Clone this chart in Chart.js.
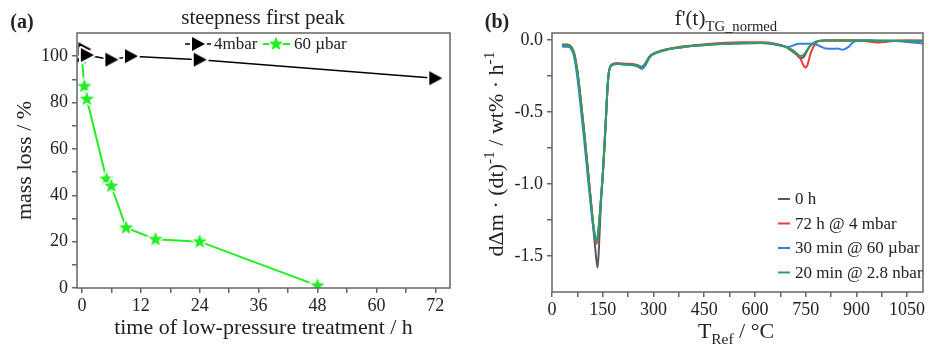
<!DOCTYPE html>
<html>
<head>
<meta charset="utf-8">
<script src="https://cdn.jsdelivr.net/npm/chart.js@4.4.0/dist/chart.umd.min.js"></script>
<style>
  html, body { margin: 0; padding: 0; background: #fff; }
  #wrap { position: relative; width: 930px; height: 351px; }
  .panel { position: absolute; top: 0; width: 465px; height: 351px; }
</style>
</head>
<body>
<div id="wrap">
  <div class="panel" style="left:0"><canvas id="chartA" width="465" height="351"></canvas></div>
  <div class="panel" style="left:465px"><canvas id="chartB" width="465" height="351"></canvas></div>
</div>
<script>
// (a) steepness of first peak vs. time of low-pressure treatment
var hours4mbar = [0, 0.5, 1, 6, 10, 24, 72];
var loss4mbar = [100, 103, 100.5, 98.5, 100, 98.5, 90.5];
var hours60ubar = [0, 0.5, 1, 5, 6, 9, 15, 24, 48];
var loss60ubar = [99, 87, 81.5, 47, 44, 26, 21, 20, 1];
var hourTicks = [0, 6, 12, 18, 24, 30, 36, 42, 48, 54, 60, 66, 72];
var lossTicks = [0, 10, 20, 30, 40, 50, 60, 70, 80, 90, 100];

// (b) f'(t) TG normed
var tempRef = [30, 45, 55, 65, 75, 85, 95, 105, 115, 122,
  128, 131, 135, 140, 145, 150, 155, 160, 165, 170,
  180, 190, 200, 220, 240, 255, 265, 275, 290, 310,
  340, 380, 430, 500, 560, 620, 660, 690, 700, 715,
  725, 735, 745, 750, 755, 765, 780, 795, 810, 830,
  845, 860, 875, 890, 900, 930, 960, 990, 1020, 1050,
  1100];
var rate0h = [-0.03, -0.03, -0.04, -0.085, -0.21, -0.41, -0.63, -0.87, -1.12, -1.30,
  -1.45, -1.52, -1.58, -1.38, -1.12, -0.95, -0.75, -0.52, -0.30, -0.20,
  -0.17, -0.165, -0.165, -0.168, -0.17, -0.178, -0.188, -0.165, -0.11, -0.085,
  -0.065, -0.05, -0.037, -0.026, -0.021, -0.02, -0.028, -0.045, -0.06, -0.085,
  -0.105, -0.125, -0.115, -0.095, -0.07, -0.035, -0.01, -0.003, -0.002, -0.002,
  -0.002, -0.002, -0.002, -0.002, -0.002, -0.002, -0.003, -0.003, -0.003, -0.004,
  -0.005];
var rate72h4mbar = [-0.035, -0.035, -0.045, -0.09, -0.22, -0.42, -0.64, -0.88, -1.12, -1.28,
  -1.38, -1.415, -1.38, -1.26, -1.10, -0.94, -0.74, -0.52, -0.30, -0.20,
  -0.165, -0.16, -0.16, -0.163, -0.165, -0.175, -0.185, -0.165, -0.11, -0.083,
  -0.062, -0.045, -0.033, -0.02, -0.015, -0.015, -0.025, -0.045, -0.055, -0.075,
  -0.10, -0.13, -0.18, -0.19, -0.175, -0.09, -0.02, -0.004, -0.002, -0.002,
  -0.002, -0.002, -0.002, -0.002, -0.002, -0.008, -0.016, -0.01, -0.003, -0.002,
  -0.003];
var rate30min60ubar = [-0.046, -0.046, -0.055, -0.11, -0.26, -0.47, -0.69, -0.93, -1.16, -1.30,
  -1.38, -1.395, -1.36, -1.25, -1.09, -0.93, -0.73, -0.51, -0.30, -0.20,
  -0.17, -0.16, -0.165, -0.17, -0.175, -0.185, -0.20, -0.18, -0.115, -0.088,
  -0.066, -0.05, -0.037, -0.027, -0.022, -0.02, -0.03, -0.045, -0.047, -0.035,
  -0.027, -0.025, -0.024, -0.024, -0.024, -0.025, -0.028, -0.045, -0.058, -0.06,
  -0.058, -0.066, -0.05, -0.015, -0.003, -0.002, -0.003, -0.004, -0.006, -0.012,
  -0.023];
var rate20min28nbar = [-0.035, -0.035, -0.045, -0.09, -0.22, -0.42, -0.64, -0.88, -1.12, -1.28,
  -1.37, -1.40, -1.37, -1.26, -1.10, -0.94, -0.74, -0.52, -0.30, -0.20,
  -0.17, -0.165, -0.165, -0.168, -0.17, -0.178, -0.188, -0.165, -0.11, -0.085,
  -0.065, -0.05, -0.037, -0.026, -0.021, -0.02, -0.028, -0.045, -0.055, -0.078,
  -0.095, -0.11, -0.10, -0.085, -0.065, -0.035, -0.012, -0.004, -0.002, -0.002,
  -0.002, -0.002, -0.002, -0.002, -0.002, -0.002, -0.003, -0.003, -0.003, -0.004,
  -0.006];
var tempTicks = [0, 75, 150, 225, 300, 375, 450, 525, 600, 675, 750, 825, 900, 975, 1050];
var rateTicks = [0, -0.25, -0.5, -0.75, -1, -1.25, -1.5];

var FONT = "'Liberation Serif', 'DejaVu Serif', serif";
var TXT = '#222';
var AXIS = '#666';

function pairs(xs, ys) {
  return xs.map(function (x, i) { return { x: x, y: ys[i] }; });
}

// marker images with a white halo, so the lines stop short of the symbols
function triangleMarker() {
  var c = document.createElement('canvas');
  c.width = 22; c.height = 22;
  var g = c.getContext('2d');
  g.beginPath();
  g.moveTo(5, 4); g.lineTo(18, 11); g.lineTo(5, 18); g.closePath();
  g.lineJoin = 'round';
  g.strokeStyle = '#fff'; g.lineWidth = 4; g.stroke();
  g.fillStyle = '#000'; g.fill();
  return c;
}
function starMarker() {
  var c = document.createElement('canvas');
  c.width = 22; c.height = 22;
  var g = c.getContext('2d');
  g.beginPath();
  for (var i = 0; i < 10; i++) {
    var r = i % 2 === 0 ? 7.5 : 3.2;
    var a = -Math.PI / 2 + i * Math.PI / 5;
    var px = 11 + r * Math.cos(a), py = 11 + r * Math.sin(a);
    if (i === 0) g.moveTo(px, py); else g.lineTo(px, py);
  }
  g.closePath();
  g.lineJoin = 'round';
  g.strokeStyle = '#fff'; g.lineWidth = 3; g.stroke();
  g.fillStyle = '#22ee22'; g.fill();
  return c;
}
var triImg = triangleMarker();
var starImg = starMarker();

// text with sub/superscripts, parts = [[text, 'n'|'sub'|'sup'], ...]
function richText(ctx, parts, x, y, size, rot, bold) {
  ctx.save();
  ctx.translate(x, y);
  if (rot) ctx.rotate(rot);
  ctx.fillStyle = TXT;
  ctx.textBaseline = 'alphabetic';
  ctx.textAlign = 'left';
  var w = 0;
  parts.forEach(function (p) {
    var s = p[1] === 'n' ? size : size * 0.7;
    ctx.font = (bold ? 'bold ' : '') + s + 'px ' + FONT;
    p.w = ctx.measureText(p[0]).width;
    w += p.w;
  });
  var cx = -w / 2;
  parts.forEach(function (p) {
    var s = p[1] === 'n' ? size : size * 0.7;
    ctx.font = (bold ? 'bold ' : '') + s + 'px ' + FONT;
    var dy = p[1] === 'sub' ? size * 0.28 : (p[1] === 'sup' ? -size * 0.4 : 0);
    ctx.fillText(p[0], cx, dy);
    cx += p.w;
  });
  ctx.restore();
}

var framePlugin = {
  id: 'frame',
  afterDraw: function (chart) {
    var a = chart.chartArea, ctx = chart.ctx;
    ctx.save();
    ctx.strokeStyle = AXIS;
    ctx.lineWidth = 1.5;
    ctx.strokeRect(a.left, a.top, a.right - a.left, a.bottom - a.top);
    ctx.restore();
  }
};

var textA = {
  id: 'textA',
  afterDraw: function (chart) {
    var ctx = chart.ctx;
    richText(ctx, [['(a)', 'n']], 22, 28, 20, 0, true);
    richText(ctx, [['steepness first peak', 'n']], 263, 24, 21, 0, false);
    // legend
    ctx.save();
    ctx.lineWidth = 1.5; ctx.strokeStyle = '#000';
    ctx.beginPath(); ctx.moveTo(185, 44); ctx.lineTo(211, 44); ctx.stroke();
    ctx.drawImage(triImg, 198 - 11, 44 - 11);
    ctx.strokeStyle = '#22ee22'; ctx.lineWidth = 2;
    ctx.beginPath(); ctx.moveTo(263, 44); ctx.lineTo(290, 44); ctx.stroke();
    ctx.drawImage(starImg, 276 - 11, 44 - 11);
    ctx.fillStyle = TXT;
    ctx.font = '17px ' + FONT;
    ctx.textBaseline = 'middle';
    ctx.fillText('4mbar', 214, 45);
    ctx.fillText('60 µbar', 294, 45);
    ctx.restore();
  }
};

var legendB = [
  ['0 h', '#5a5a5a'],
  ['72 h @ 4 mbar', '#f03a3a'],
  ['30 min @ 60 µbar', '#3b7be8'],
  ['20 min @ 2.8 nbar', '#2e9e5e']
];
var textB = {
  id: 'textB',
  afterDraw: function (chart) {
    var ctx = chart.ctx;
    richText(ctx, [['(b)', 'n']], 32, 28, 20, 0, true);
    richText(ctx, [["f'(t)", 'n'], ['TG_normed', 'sub']], 261, 25, 21, 0, false);
    richText(ctx, [['T', 'n'], ['Ref', 'sub'], [' / °C', 'n']], 271, 338, 22, 0, false);
    richText(ctx, [['dΔm · (dt)', 'n'], ['-1', 'sup'], [' / wt% · h', 'n'], ['-1', 'sup']],
      38, 154, 22, -Math.PI / 2, false);
    ctx.save();
    ctx.font = '17px ' + FONT;
    ctx.textBaseline = 'middle';
    legendB.forEach(function (it, i) {
      var y = 199 + i * 24.5;
      ctx.strokeStyle = it[1]; ctx.lineWidth = 2;
      ctx.beginPath(); ctx.moveTo(313, y); ctx.lineTo(325, y); ctx.stroke();
      ctx.fillStyle = TXT;
      ctx.fillText(it[0], 330, y + 1);
    });
    ctx.restore();
  }
};

function tickFont() { return { family: FONT, size: 18 }; }
function gridOpts() {
  return { display: true, drawOnChartArea: false, tickLength: 5, color: AXIS, lineWidth: 1.5 };
}

new Chart(document.getElementById('chartA'), {
  type: 'line',
  data: {
    datasets: [
      {
        label: '4mbar',
        data: pairs(hours4mbar, loss4mbar),
        borderColor: '#000',
        borderWidth: 1.5,
        pointStyle: triImg,
        pointRadius: 7,
        tension: 0
      },
      {
        label: '60 µbar',
        data: pairs(hours60ubar, loss60ubar),
        borderColor: '#22ee22',
        borderWidth: 2,
        pointStyle: starImg,
        pointRadius: 7,
        tension: 0
      }
    ]
  },
  options: {
    responsive: false,
    animation: false,
    layout: { padding: { left: 0, top: 33, right: 15, bottom: 0 } },
    plugins: { legend: { display: false }, tooltip: { enabled: false } },
    scales: {
      x: {
        type: 'linear', min: -1, max: 75,
        afterBuildTicks: function (s) { s.ticks = hourTicks.map(function (v) { return { value: v }; }); },
        afterFit: function (s) { s.height = 63; },
        ticks: {
          autoSkip: false, maxRotation: 0, padding: 2, color: TXT, font: tickFont(),
          callback: function (v) { return v % 12 === 0 ? String(v) : ''; }
        },
        grid: gridOpts(),
        border: { display: false },
        title: {
          display: true, text: 'time of low-pressure treatment / h', color: TXT,
          font: { family: FONT, size: 22 }, padding: { top: 0, bottom: 10 }
        }
      },
      y: {
        type: 'linear', min: 0, max: 110,
        afterBuildTicks: function (s) { s.ticks = lossTicks.map(function (v) { return { value: v }; }); },
        afterFit: function (s) { s.width = 77; },
        ticks: {
          autoSkip: false, padding: 4, color: TXT, font: tickFont(),
          callback: function (v) { return v % 20 === 0 ? String(v) : ''; }
        },
        grid: gridOpts(),
        border: { display: false },
        title: {
          display: true, text: 'mass loss / %', color: TXT,
          font: { family: FONT, size: 22 }, padding: { top: 12, bottom: 0 }
        }
      }
    }
  },
  plugins: [framePlugin, textA]
});

// lower order is drawn on top: green above blue above red above grey
function curve(vals, color, order) {
  return {
    data: pairs(tempRef, vals),
    borderColor: color,
    borderWidth: 2,
    pointRadius: 0,
    order: order,
    cubicInterpolationMode: 'monotone'
  };
}

new Chart(document.getElementById('chartB'), {
  type: 'line',
  data: {
    datasets: [
      curve(rate0h, '#5a5a5a', 3),
      curve(rate72h4mbar, '#f03a3a', 2),
      curve(rate30min60ubar, '#3b7be8', 1),
      curve(rate20min28nbar, '#2e9e5e', 0)
    ]
  },
  options: {
    responsive: false,
    animation: false,
    layout: { padding: { left: 0, top: 33, right: 7, bottom: 0 } },
    plugins: { legend: { display: false }, tooltip: { enabled: false } },
    scales: {
      x: {
        type: 'linear', min: 0, max: 1097,
        afterBuildTicks: function (s) { s.ticks = tempTicks.map(function (v) { return { value: v }; }); },
        afterFit: function (s) { s.height = 59; },
        ticks: {
          autoSkip: false, maxRotation: 0, padding: 2, color: TXT, font: tickFont(),
          callback: function (v) { return v % 150 === 0 ? String(v) : ''; }
        },
        grid: gridOpts(),
        border: { display: false }
      },
      y: {
        type: 'linear', min: -1.75, max: 0.05,
        afterBuildTicks: function (s) { s.ticks = rateTicks.map(function (v) { return { value: v }; }); },
        afterFit: function (s) { s.width = 87; },
        ticks: {
          autoSkip: false, padding: 4, color: TXT, font: tickFont(),
          callback: function (v) { return Math.abs(v * 2 - Math.round(v * 2)) < 1e-6 ? v.toFixed(1) : ''; }
        },
        grid: gridOpts(),
        border: { display: false }
      }
    }
  },
  plugins: [framePlugin, textB]
});
</script>
</body>
</html>
